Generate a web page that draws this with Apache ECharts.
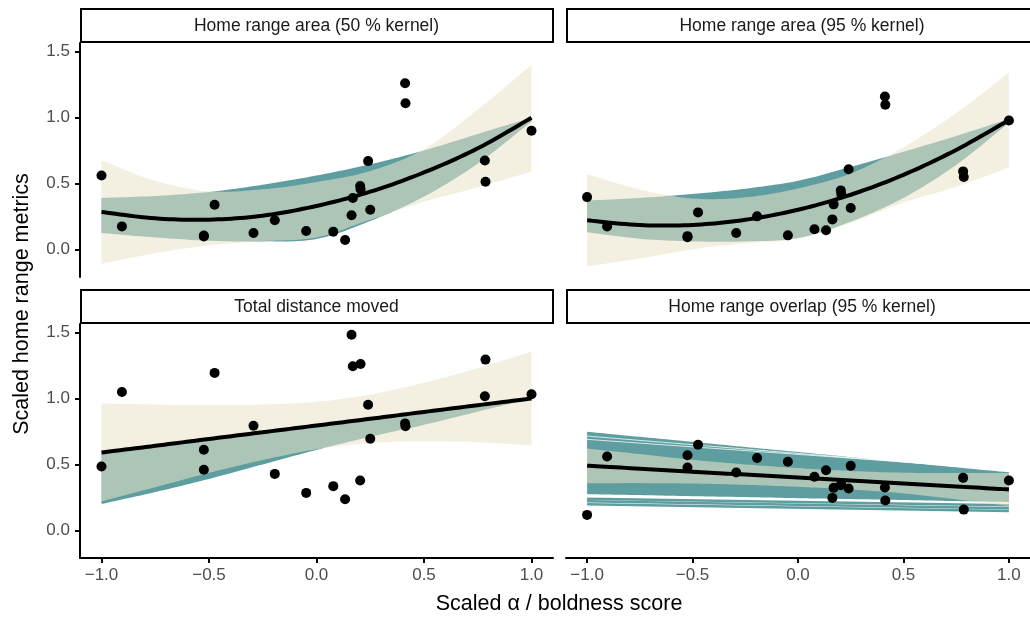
<!DOCTYPE html>
<html><head><meta charset="utf-8">
<script src="https://cdn.jsdelivr.net/npm/echarts@6/dist/echarts.min.js"></script>
<style>html,body{margin:0;padding:0;background:#fff}#c{width:1030px;height:617px}</style>
</head><body><div id="c"></div>
<script>
// ---------- data ----------
const panelTitles = ['Home range area (50 % kernel)', 'Home range area (95 % kernel)', 'Total distance moved', 'Home range overlap (95 % kernel)'];
const xTicks = [-1, -0.5, 0, 0.5, 1];
const yTicks = [0, 0.5, 1, 1.5];

// individuals' boldness scores
const xInd = [-1.0, -0.905, -0.524, -0.524, -0.474, -0.293, -0.194, -0.048, 0.078, 0.133, 0.163, 0.169, 0.203, 0.205, 0.24, 0.25, 0.412, 0.414, 0.783, 0.786, 1.0];
const hr50Pts = [0.56, 0.174, 0.098, 0.105, 0.338, 0.124, 0.22, 0.139, 0.134, 0.071, 0.258, 0.389, 0.48, 0.455, 0.669, 0.30, 1.26, 1.108, 0.674, 0.513, 0.899];
const hr95Pts = [0.396, 0.174, 0.091, 0.10, 0.28, 0.124, 0.25, 0.106, 0.152, 0.144, 0.227, 0.341, 0.447, 0.42, 0.608, 0.313, 1.159, 1.096, 0.591, 0.548, 0.977];
const distPts = [0.484, 1.049, 0.611, 0.459, 1.194, 0.793, 0.428, 0.284, 0.335, 0.236, 1.483, 1.245, 0.378, 1.262, 0.953, 0.694, 0.811, 0.79, 1.017, 1.295, 1.032];
const overlapPts = [0.117, 0.56, 0.57, 0.477, 0.649, 0.439, 0.548, 0.52, 0.406, 0.456, 0.246, 0.322, 0.342, 0.35, 0.317, 0.489, 0.325, 0.226, 0.398, 0.157, 0.378];

// curve positions
const xCurve = [-1, -0.75, -0.5, -0.25, 0, 0.25, 0.5, 0.75, 1];

const hr50Fit   = [0.283, 0.235, 0.225, 0.255, 0.329, 0.437, 0.583, 0.766, 0.998];
const hr50CiLo  = [-0.109, -0.03, 0.03, 0.062, 0.09, 0.225, 0.36, 0.47, 0.59];
const hr50CiHi  = [0.674, 0.52, 0.44, 0.455, 0.51, 0.594, 0.76, 1.06, 1.40];
const hr50DrawLo = [0.124, 0.09, 0.065, 0.06, 0.078, 0.215, 0.40, 0.65, 0.97];
const hr50DrawHi = [0.39, 0.405, 0.435, 0.49, 0.56, 0.645, 0.75, 0.875, 1.0];

const hr95Fit   = [0.22, 0.184, 0.185, 0.224, 0.30, 0.414, 0.565, 0.754, 0.98];
const hr95CiLo  = [-0.13, -0.07, 0.0, 0.045, 0.08, 0.20, 0.355, 0.474, 0.62];
const hr95CiHi  = [0.57, 0.454, 0.385, 0.394, 0.462, 0.575, 0.775, 1.034, 1.34];
const hr95DrawLo = [0.13, 0.08, 0.06, 0.06, 0.085, 0.21, 0.39, 0.64, 0.96];
const hr95DrawHi = [0.37, 0.39, 0.42, 0.46, 0.52, 0.625, 0.74, 0.86, 0.99];

const distFit   = [0.59, 0.641, 0.693, 0.744, 0.795, 0.846, 0.898, 0.949, 1.0];
const distCiLo  = [0.22, 0.327, 0.436, 0.533, 0.615, 0.662, 0.676, 0.668, 0.645];
const distCiHi  = [0.963, 0.955, 0.95, 0.955, 0.975, 1.03, 1.12, 1.23, 1.355];
const distDrawLo = [0.20, 0.29, 0.39, 0.50, 0.61, 0.71, 0.80, 0.90, 1.0];
const distDrawHi = [0.58, 0.632, 0.684, 0.736, 0.788, 0.84, 0.892, 0.944, 0.996];

const overlapFit   = [0.49, 0.4675, 0.445, 0.4225, 0.40, 0.3775, 0.355, 0.3325, 0.31];
const overlapCiLo  = [0.357, 0.358, 0.355, 0.345, 0.33, 0.31, 0.28, 0.235, 0.185];
const overlapCiHi  = [0.62, 0.578, 0.535, 0.50, 0.472, 0.45, 0.437, 0.434, 0.435];
const overlapDrawLo = [0.274, 0.267, 0.259, 0.252, 0.244, 0.237, 0.23, 0.222, 0.215];
const overlapDrawHi = [0.748, 0.709, 0.671, 0.632, 0.594, 0.555, 0.517, 0.478, 0.44];
// separate posterior draws below the main band, and pale gaps between draws (values at x = -1 and x = 1)
const overlapLineX = [-1, 1];
const overlapExtraDraws = [[0.24, 0.19], [0.22, 0.167], [0.198, 0.147]];
const overlapDrawGaps = [[0.69, 0.462], [0.715, 0.452]];

// ---------- styling / layout ----------
const FONT = 'Liberation Sans, Arial, sans-serif';
const TEAL = '#5f9ea0';
const BEIGE = 'rgba(236,229,201,0.56)';
const grids = [
  {left: 80, top: 43, width: 473, height: 234},
  {left: 566, top: 43, width: 472, height: 234},
  {left: 80, top: 324, width: 473, height: 234},
  {left: 566, top: 324, width: 472, height: 234}
];
const panels = [
  {pts: hr50Pts, fit: hr50Fit, ciLo: hr50CiLo, ciHi: hr50CiHi, dLo: hr50DrawLo, dHi: hr50DrawHi},
  {pts: hr95Pts, fit: hr95Fit, ciLo: hr95CiLo, ciHi: hr95CiHi, dLo: hr95DrawLo, dHi: hr95DrawHi},
  {pts: distPts, fit: distFit, ciLo: distCiLo, ciHi: distCiHi, dLo: distDrawLo, dHi: distDrawHi},
  {pts: overlapPts, fit: overlapFit, ciLo: overlapCiLo, ciHi: overlapCiHi, dLo: overlapDrawLo, dHi: overlapDrawHi}
];
const fmt = v => (v < 0 ? '\u2212' : '') + Math.abs(v).toFixed(1);

// Catmull-Rom smoothing of pixel points (drawing only)
function spline(p) {
  const out = [];
  for (let i = 0; i < p.length - 1; i++) {
    const p0 = p[Math.max(i - 1, 0)], p1 = p[i], p2 = p[i + 1], p3 = p[Math.min(i + 2, p.length - 1)];
    for (let s = 0; s < 12; s++) {
      const t = s / 12, t2 = t * t, t3 = t2 * t;
      const f = (a, b, c, d) => 0.5 * ((2 * b) + (-a + c) * t + (2 * a - 5 * b + 4 * c - d) * t2 + (-a + 3 * b - 3 * c + d) * t3);
      out.push([f(p0[0], p1[0], p2[0], p3[0]), f(p0[1], p1[1], p2[1], p3[1])]);
    }
  }
  out.push(p[p.length - 1]);
  return out;
}

const xAxes = [], yAxes = [], series = [], graphics = [];
grids.forEach((g, i) => {
  xAxes.push({
    type: 'value', gridIndex: i, min: -1.1, max: 1.1, show: i >= 2,
    axisLine: {onZero: false, lineStyle: {color: '#000', width: 2}},
    axisTick: {customValues: xTicks, length: 5, lineStyle: {color: '#000', width: 2}},
    axisLabel: {customValues: xTicks, formatter: fmt, color: '#4d4d4d', fontSize: 17, fontFamily: FONT, margin: 9},
    splitLine: {show: false}
  });
  yAxes.push({
    type: 'value', gridIndex: i, min: -0.21, max: 1.565, show: i % 2 === 0,
    axisLine: {onZero: false, lineStyle: {color: '#000', width: 2}},
    axisTick: {customValues: yTicks, length: 5, lineStyle: {color: '#000', width: 2}},
    axisLabel: {customValues: yTicks, formatter: fmt, color: '#4d4d4d', fontSize: 17, fontFamily: FONT, margin: 10},
    splitLine: {show: false}
  });
  const p = panels[i];
  const band = (lo, hi, color, z) => {
    series.push({
      type: 'custom', xAxisIndex: i, yAxisIndex: i, z: z, silent: true,
      data: xCurve.map((x, k) => [x, lo[k], hi[k]]),
      encode: {x: 0, y: [1, 2]},
      renderItem: (params, api) => {
        if (params.dataIndex !== 0) return null;
        const top = spline(xCurve.map((x, k) => api.coord([x, hi[k]])));
        const bot = spline(xCurve.map((x, k) => api.coord([x, lo[k]])));
        return {type: 'polygon', shape: {points: top.concat(bot.reverse())}, style: {fill: color, stroke: null}};
      }
    });
  };
  const straight = (ys, color, width, z) => series.push({
    type: 'line', xAxisIndex: i, yAxisIndex: i, z: z, symbol: 'none', silent: true,
    data: overlapLineX.map((x, k) => [x, ys[k]]), lineStyle: {color: color, width: width}
  });
  band(p.dLo, p.dHi, TEAL, 2);
  if (i === 3) {
    overlapExtraDraws.forEach(d => straight(d, TEAL, 2.5, 2));
    overlapDrawGaps.forEach(d => straight(d, 'rgba(255,255,255,0.75)', 1, 2));
  }
  band(p.ciLo, p.ciHi, BEIGE, 3);
  series.push({
    type: 'custom', xAxisIndex: i, yAxisIndex: i, z: 4, silent: true,
    data: xCurve.map((x, k) => [x, p.fit[k]]),
    encode: {x: 0, y: 1},
    renderItem: (params, api) => {
      if (params.dataIndex !== 0) return null;
      const pts = spline(xCurve.map((x, k) => api.coord([x, p.fit[k]])));
      return {type: 'polyline', shape: {points: pts}, style: {stroke: '#000', lineWidth: 4, fill: null, lineCap: 'butt', lineJoin: 'round'}};
    }
  });
  series.push({
    type: 'scatter', xAxisIndex: i, yAxisIndex: i, z: 5, symbolSize: 10, silent: true,
    data: xInd.map((x, k) => [x, p.pts[k]]), itemStyle: {color: '#000', opacity: 1}
  });
  // facet strip
  graphics.push({
    type: 'rect', shape: {x: g.left + 1, y: g.top - 34, width: g.width - 1, height: 33},
    style: {fill: '#fff', stroke: '#000', lineWidth: 2}, z: 10
  });
  graphics.push({
    type: 'text', x: g.left + g.width / 2, y: g.top - 17, z: 11,
    style: {text: panelTitles[i], fill: '#1a1a1a', fontSize: 17.5, fontFamily: FONT,
      align: 'center', verticalAlign: 'middle', textAlign: 'center', textVerticalAlign: 'middle'}
  });
});
graphics.push({
  type: 'text', x: 22, y: 304, rotation: Math.PI / 2, z: 11,
  style: {text: 'Scaled home range metrics', fill: '#000', fontSize: 21.5, fontFamily: FONT,
    align: 'center', verticalAlign: 'middle', textAlign: 'center', textVerticalAlign: 'middle'}
});
graphics.push({
  type: 'text', x: 559, y: 604, z: 11,
  style: {text: 'Scaled \u03b1 / boldness score', fill: '#000', fontSize: 21.5, fontFamily: FONT,
    align: 'center', verticalAlign: 'middle', textAlign: 'center', textVerticalAlign: 'middle'}
});

const chart = echarts.init(document.getElementById('c'), null, {renderer: 'canvas'});
chart.setOption({
  animation: false,
  backgroundColor: '#fff',
  grid: grids.map(g => Object.assign({containLabel: false}, g)),
  xAxis: xAxes, yAxis: yAxes, series: series, graphic: graphics
});
</script></body></html>
